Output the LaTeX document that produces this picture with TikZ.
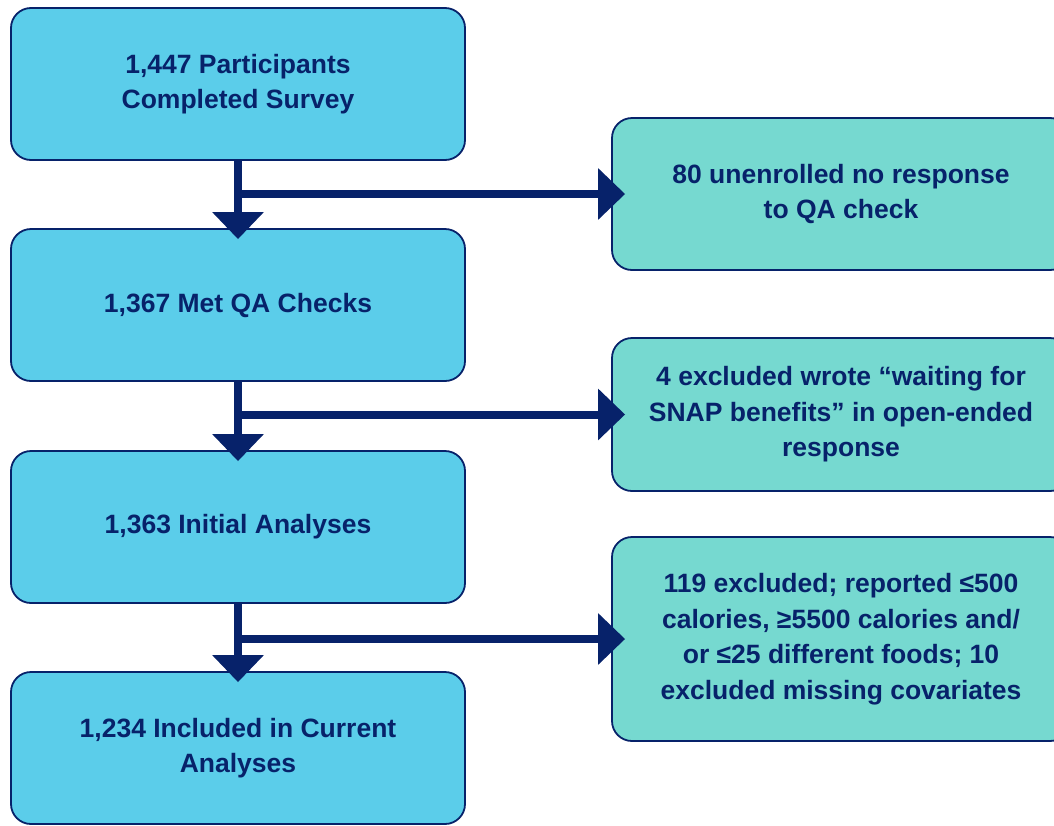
\documentclass[tikz,border=0pt]{standalone}
\usepackage{fontspec}
\setmainfont{Liberation Sans}
\usetikzlibrary{arrows.meta}
\definecolor{navy}{HTML}{07226A}
\definecolor{leftfill}{HTML}{5BCDEA}
\definecolor{rightfill}{HTML}{76D9D0}
\tikzset{
  lbox/.style={draw=navy, line width=1.8pt, fill=leftfill, rounded corners=20pt,
    minimum width=454pt, minimum height=152pt, align=center, text=navy,
    font=\bfseries\fontsize{26.5}{35}\selectfont, inner sep=0pt},
  rbox/.style={draw=navy, line width=1.8pt, fill=rightfill, rounded corners=20pt,
    minimum width=458pt, align=center, text=navy,
    font=\bfseries\fontsize{26.5}{35.5}\selectfont, inner sep=0pt},
  conn/.style={draw=navy, line width=8pt, -{Triangle[width=50pt,length=27pt]}},
}
\begin{document}
\begin{tikzpicture}[x=1pt,y=-1pt]
\useasboundingbox (0,0) rectangle (1054,825);
\clip (0,0) rectangle (1054,825);
\node[lbox] (b1) at (238,84) {1,447 Participants\\Completed Survey};
\node[lbox] (b2) at (238,305) {1,367 Met QA Checks};
\node[lbox] (b3) at (238,527) {1,363 Initial Analyses};
\node[lbox] (b4) at (238,748) {1,234 Included in Current\\Analyses};
\node[rbox, minimum height=152pt] (r1) at (841,194) {80 unenrolled no response\\to QA check};
\node[rbox, minimum height=153pt] (r2) at (841,414.5) {4 excluded wrote “waiting for\\SNAP benefits” in open-ended\\response};
\node[rbox, minimum height=204pt] (r3) at (841,639) {119 excluded; reported ≤500\\calories, ≥5500 calories and/\\or ≤25 different foods; 10\\excluded missing covariates};
\draw[conn, shorten >=-11pt] (b1.south) -- (b2.north);
\draw[conn, shorten >=-11pt] (b2.south) -- (b3.north);
\draw[conn, shorten >=-11pt] (b3.south) -- (b4.north);
\draw[conn, shorten >=-14pt] (r1.west -| b1.south) -- (r1.west);
\draw[conn, shorten >=-14pt] (r2.west -| b2.south) -- (r2.west);
\draw[conn, shorten >=-14pt] (r3.west -| b3.south) -- (r3.west);
\end{tikzpicture}
\end{document}
